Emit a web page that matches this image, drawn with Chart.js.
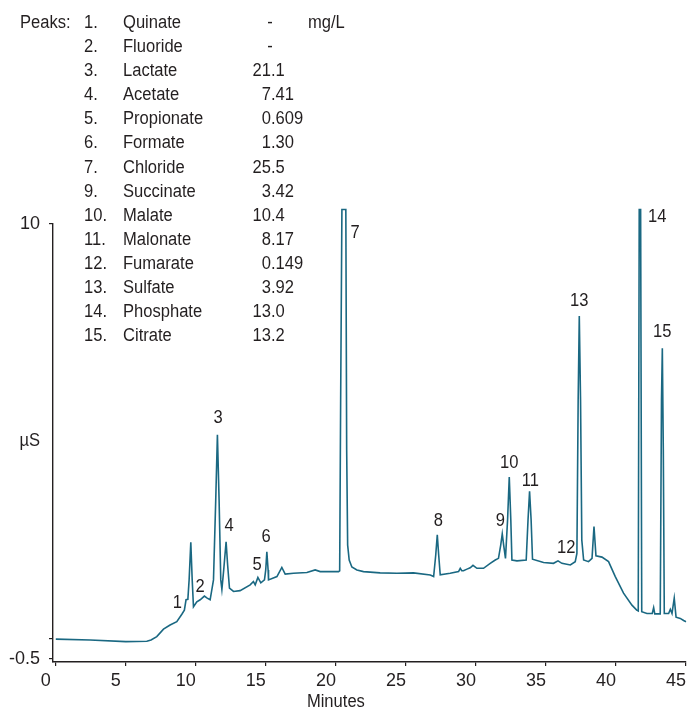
<!DOCTYPE html>
<html>
<head>
<meta charset="utf-8">
<script src="https://cdn.jsdelivr.net/npm/chart.js@4.4.1/dist/chart.umd.min.js"></script>
<style>
  html, body { margin: 0; padding: 0; background: #ffffff; }
  #chrom { display: block; }
</style>
</head>
<body>
<canvas id="chrom" width="688" height="713"></canvas>
<script>
// trace (minutes, µS)
const times = [
  0, 2.45, 5.0, 6.5, 6.8, 7.21, 7.69, 8.16, 8.64, 9.0, 9.18, 9.3, 9.43, 9.52, 9.64, 9.74, 9.83,
  10.07, 10.31, 10.61, 10.81, 11.02, 11.26, 11.42, 11.54, 11.66, 11.78, 11.86, 11.99, 12.16, 12.27,
  12.4, 12.69, 13.16, 13.88, 14.11, 14.24, 14.43, 14.64, 14.9, 14.99, 15.07, 15.16, 15.19, 15.79,
  16.14, 16.38, 16.97, 17.93, 18.52, 18.88, 20.19, 20.27, 20.34, 20.43, 20.71, 20.77, 20.84, 20.95,
  21.14, 21.5, 21.97, 23.16, 24.36, 25.54, 26.74, 26.98, 27.13, 27.24, 27.34, 27.45, 28.16, 28.76,
  28.88, 28.99, 29.11, 29.36, 29.59, 29.79, 30.07, 30.54, 31.02, 31.38, 31.61, 31.77, 31.88, 31.98,
  32.11, 32.26, 32.38, 32.49, 32.57, 32.93, 33.59, 33.72, 33.83, 33.94, 34.04, 34.83, 35.54, 35.86,
  36.14, 36.74, 37.09, 37.21, 37.3, 37.38, 37.47, 37.56, 37.69, 38.04, 38.29, 38.43, 38.57, 39.0,
  39.47, 39.95, 40.54, 41.14, 41.48, 41.59, 41.66, 41.76, 41.84, 42.21, 42.59, 42.69, 42.77, 43.16,
  43.25, 43.31, 43.38, 43.45, 43.76, 43.88, 44.0, 44.16, 44.29, 44.59, 44.83, 45.0
];
const signal = [
  -0.02, -0.04, -0.08, -0.07, -0.04, 0.04, 0.22, 0.32, 0.4, 0.58, 0.68, 0.93, 0.94, 1.41, 2.32, 1.41, 0.76,
  0.88, 0.93, 1.02, 0.97, 0.93, 1.41, 3.34, 4.91, 3.34, 1.41, 1.18, 1.65, 2.33, 1.77,
  1.21, 1.13, 1.15, 1.29, 1.37, 1.29, 1.47, 1.34, 1.41, 1.65, 2.09, 1.65, 1.41, 1.49,
  1.71, 1.55, 1.57, 1.59, 1.65, 1.61, 1.61, 1.63, 5.76, 10.35, 10.35, 4.55, 2.25, 1.89,
  1.72, 1.65, 1.61, 1.58, 1.57, 1.58, 1.53, 1.49, 2.01, 2.5, 2.01, 1.53, 1.57, 1.61,
  1.69, 1.63, 1.63, 1.67, 1.7, 1.76, 1.69, 1.69, 1.81, 1.89, 1.93, 2.25, 2.52, 2.25,
  1.93, 2.86, 3.89, 2.86, 1.89, 1.87, 1.89, 2.86, 3.55, 2.86, 1.91, 1.83, 1.81, 1.87,
  1.81, 1.77, 1.85, 2.05, 5.76, 7.78, 5.76, 2.37, 1.89, 1.85, 1.93, 2.7, 1.99, 1.96,
  1.85, 1.49, 1.09, 0.8, 0.68, 0.66, 10.35, 10.35, 0.64, 0.6, 0.6, 0.74, 0.59, 0.59,
  5.76, 7.0, 4.55, 0.6, 0.6, 0.7, 0.6, 0.97, 0.51, 0.48, 0.43, 0.4
];

// peak numbers placed above their peaks
const peakLabels = ["1", "2", "3", "4", "5", "6", "7", "8", "9", "10", "11", "12", "13", "14", "15"];
const peakLabelTime = [8.68, 10.31, 11.59, 12.38, 14.38, 15.02, 21.38, 27.31, 31.74, 32.38, 33.88, 36.45, 37.38, 42.95, 43.31];
const peakLabelLevel = [0.86, 1.24, 5.32, 2.71, 1.78, 2.45, 9.79, 2.83, 2.83, 4.24, 3.8, 2.18, 8.15, 10.17, 7.4];

// peak table
const tableNumbers = ["1.", "2.", "3.", "4.", "5.", "6.", "7.", "9.", "10.", "11.", "12.", "13.", "14.", "15."];
const tableNames = ["Quinate", "Fluoride", "Lactate", "Acetate", "Propionate", "Formate", "Chloride",
  "Succinate", "Malate", "Malonate", "Fumarate", "Sulfate", "Phosphate", "Citrate"];
const tableValues = ["-", "-", "21.1", "7.41", "0.609", "1.30", "25.5", "3.42", "10.4", "8.17", "0.149", "3.92", "13.0", "13.2"];

const xTicks = [0, 5, 10, 15, 20, 25, 30, 35, 40, 45];
const yTicks = [-0.5, 0, 10];
const yTickLabels = ["-0.5", "", "10"];

const ink = "#231f20";
const trace = "#1a6882";
const FONT = "'Liberation Sans', Arial, sans-serif";

const points = times.map((t, i) => ({ x: t, y: signal[i] }));

// the original type is a little narrower than Liberation Sans
function narrowText(ctx, text, x, y, align) {
  ctx.save();
  ctx.translate(x, y);
  ctx.scale(0.92, 1);
  ctx.textAlign = align;
  ctx.fillText(text, 0, 0);
  ctx.restore();
}

const textPlugin = {
  id: "chromText",
  afterDraw(chart) {
    const ctx = chart.ctx;
    const xs = chart.scales.x, ys = chart.scales.y;
    ctx.save();
    ctx.fillStyle = ink;
    ctx.font = "18px " + FONT;
    ctx.textBaseline = "middle";

    // peak numbers
    peakLabels.forEach((lab, i) => {
      narrowText(ctx, lab, xs.getPixelForValue(peakLabelTime[i]), ys.getPixelForValue(peakLabelLevel[i]), "center");
    });

    // axis titles
    narrowText(ctx, "µS", 40, ys.getPixelForValue(4.75), "right");
    narrowText(ctx, "Minutes", xs.getPixelForValue(20), 702, "center");

    // table
    const rowY = r => 23 + r * 24.1;
    narrowText(ctx, "Peaks:", 20, rowY(0), "left");
    narrowText(ctx, "mg/L", 308, rowY(0), "left");
    tableNames.forEach((name, r) => {
      const y = rowY(r);
      narrowText(ctx, tableNumbers[r], 84, y, "left");
      narrowText(ctx, name, 123, y, "left");
      const v = tableValues[r];
      const dot = v.indexOf(".");
      if (dot < 0) {
        narrowText(ctx, v, 270, y, "center");
      } else {
        narrowText(ctx, v.slice(0, dot), 271, y, "right");
        narrowText(ctx, v.slice(dot), 271, y, "left");
      }
    });
    ctx.restore();
  }
};

new Chart(document.getElementById("chrom"), {
  type: "line",
  plugins: [textPlugin],
  data: {
    datasets: [{
      data: points,
      borderColor: trace,
      borderWidth: 1.6,
      pointRadius: 0,
      tension: 0,
      fill: false,
      clip: false
    }]
  },
  options: {
    responsive: false,
    devicePixelRatio: 1,
    animation: false,
    layout: { padding: { top: 224, right: 2, left: 0, bottom: 0 } },
    plugins: { legend: { display: false }, tooltip: { enabled: false } },
    scales: {
      x: {
        type: "linear",
        min: -0.2,
        max: 45,
        afterFit: s => { s.height = 51; s.paddingLeft = 0; s.paddingRight = 0; },
        afterBuildTicks: s => { s.ticks = xTicks.map(v => ({ value: v })); },
        grid: { drawOnChartArea: false, tickLength: 4, color: ink, lineWidth: 1.2 },
        border: { color: ink, width: 1.4 },
        ticks: { color: ink, font: { family: FONT, size: 18 }, labelOffset: -10, padding: 4, maxRotation: 0 },
        title: { display: false }
      },
      y: {
        type: "linear",
        min: -0.572,
        max: 10,
        afterFit: s => { s.width = 53; s.paddingTop = 0; s.paddingBottom = 0; },
        afterBuildTicks: s => { s.ticks = yTicks.map(v => ({ value: v })); },
        grid: { drawOnChartArea: false, tickLength: 4, color: ink, lineWidth: 1.2 },
        border: { color: ink, width: 1.4 },
        ticks: {
          color: ink, font: { family: FONT, size: 18 }, padding: 9,
          callback: (v, i) => yTickLabels[i]
        }
      }
    }
  }
});
</script>
</body>
</html>
